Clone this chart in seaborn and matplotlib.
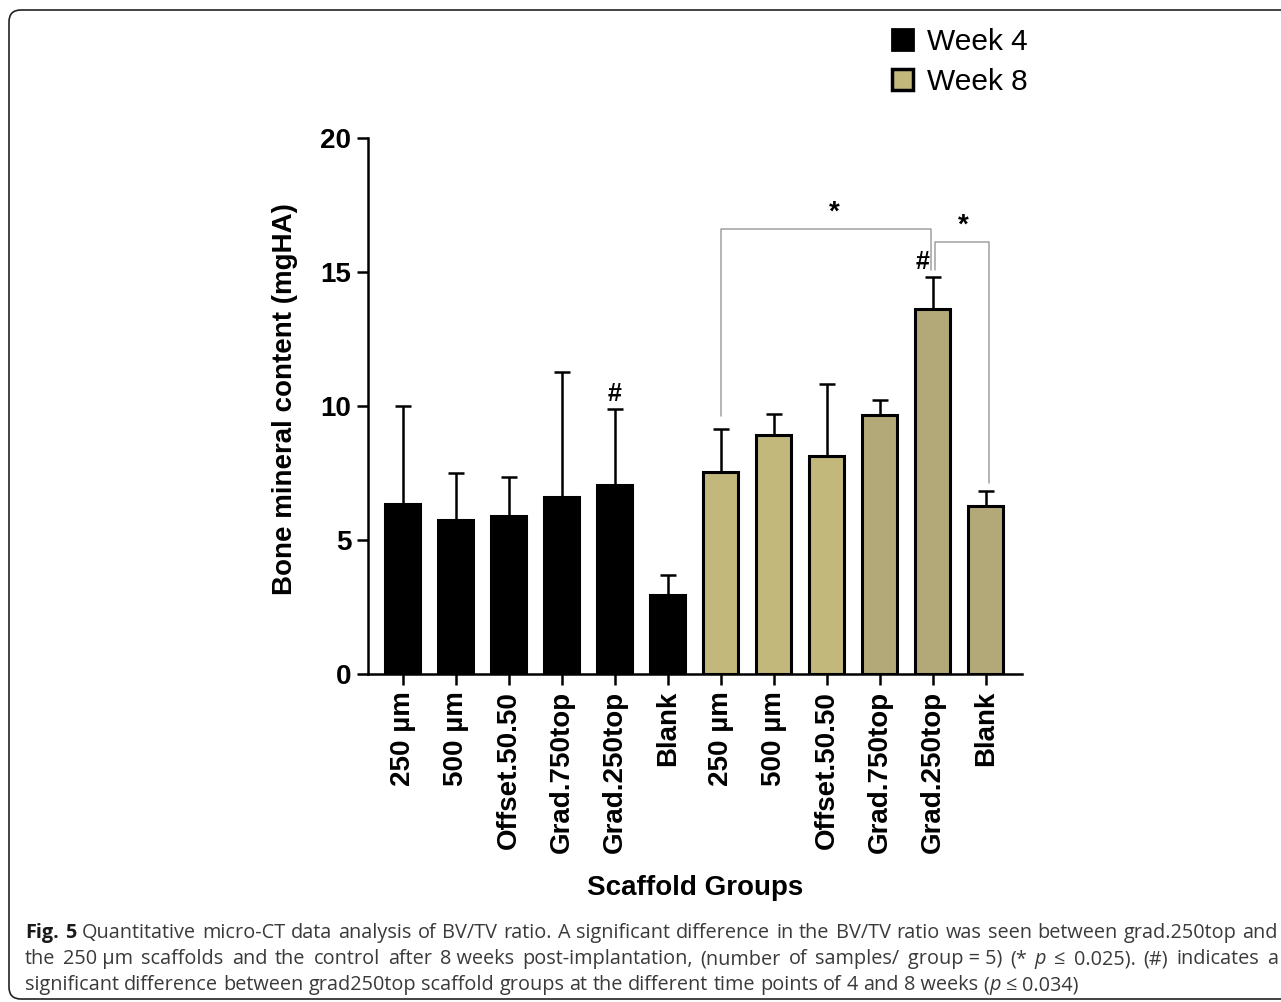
import matplotlib
matplotlib.use("Agg")
import matplotlib.pyplot as plt
import numpy as np
import pandas as pd
import seaborn as sns
from matplotlib.patches import Patch, FancyBboxPatch

# ---- data ---------------------------------------------------------------
GROUPS = ["250 µm", "500 µm", "Offset.50.50", "Grad.750top", "Grad.250top", "Blank"]
WEEKS = ["Week 4", "Week 8"]
MEAN_W4 = [6.34, 5.75, 5.90, 6.60, 7.05, 2.95]
SD_W4 = [3.66, 1.75, 1.45, 4.67, 2.84, 0.75]
MEAN_W8 = [7.54, 8.92, 8.13, 9.66, 13.62, 6.27]
SD_W8 = [1.60, 0.78, 2.69, 0.56, 1.19, 0.56]

COLOR_W4 = "#000000"
COLOR_W8_LIGHT = "#C2B87C"
COLOR_W8_DARK = "#B3A877"

# significance brackets: (x_left, x_right, top, left_bottom, right_bottom, star_x)
BRACKETS = [
    (6.0, 9.97, 16.60, 9.64, 15.07, 8.13),
    (10.04, 11.05, 16.12, 15.07, 7.13, 10.57),
]
HASH_BARS = [4, 10]  # positions carrying a '#'

CAPTION = [
    ([[("Fig.", "b")], [("5", "b")]] +
     [[(w, "n")] for w in "Quantitative micro-CT data analysis of BV/TV ratio. A significant "
                         "difference in the BV/TV ratio was seen between grad.250top and".split()]),
    ([[(w, "n")] for w in ["the", "250 µm", "scaffolds", "and", "the", "control", "after",
                          "8 weeks", "post-implantation,", "(number", "of", "samples/",
                          "group = 5)", "(*"]] +
     [[("p", "i")], [("≤", "n")], [("0.025).", "n")], [("(#)", "n")],
      [("indicates", "n")], [("a", "n")]]),
    ([[(w, "n")] for w in "significant difference between grad250top scaffold groups at the "
                         "different time points of 4 and".split()] +
     [[("8 weeks", "n")], [("(", "n"), ("p", "i")], [("≤", "n")], [("0.034)", "n")]]),
]

# ---- table for seaborn ---------------------------------------------------
keys = [f"{w}|{g}" for w in WEEKS for g in GROUPS]
means = np.array(MEAN_W4 + MEAN_W8)
sds = np.array(SD_W4 + SD_W8)
df = pd.DataFrame({"key": keys, "mean": means})
palette = [COLOR_W4] * 6 + [COLOR_W8_LIGHT] * 3 + [COLOR_W8_DARK] * 3

sns.set_style("ticks")
plt.rcParams["font.family"] = ["Liberation Sans", "DejaVu Sans"]
for k in ["text.color", "axes.labelcolor", "xtick.color", "ytick.color", "axes.edgecolor"]:
    plt.rcParams[k] = "black"

W, H = 1281, 1002
fig = plt.figure(figsize=(W / 100, H / 100), dpi=100)
ax = fig.add_axes([368 / W, 1 - 674 / H, 654 / W, 536 / H])

sns.barplot(data=df, x="key", y="mean", hue="key", order=keys, hue_order=keys,
            palette=palette, saturation=1, width=0.66, dodge=False, legend=False,
            errorbar=None, edgecolor="black", linewidth=2.2, ax=ax)

ax.errorbar(np.arange(len(keys)), means, yerr=[np.zeros(len(keys)), sds],
            fmt="none", ecolor="black", elinewidth=1.8, capsize=5.8, capthick=1.8,
            zorder=0.5)

ax.set_xlim(-0.66, 11.68)
ax.set_ylim(0, 20)
ax.set_yticks([0, 5, 10, 15, 20])
ax.set_xticks(np.arange(len(keys)))
ax.set_xticklabels(GROUPS * 2, rotation=90, fontsize=20, fontweight="bold")
for lab in ax.get_yticklabels():
    lab.set_fontsize(20)
    lab.set_fontweight("bold")
ax.tick_params(axis="both", length=8, width=1.8, direction="out", pad=4)
for s in ["top", "right"]:
    ax.spines[s].set_visible(False)
for s in ["left", "bottom"]:
    ax.spines[s].set_linewidth(1.8)

ax.set_xlabel("Scaffold Groups", fontsize=20, fontweight="bold")
ax.set_ylabel("Bone mineral content (mgHA)", fontsize=20, fontweight="bold")
ax.xaxis.set_label_coords(0.5, -0.399)
ax.xaxis.label.set_va("center")
ax.yaxis.set_label_coords(-0.127, 0.513)
ax.yaxis.label.set_va("center")

# significance annotations
for xl, xr, top, lb, rb, sx in BRACKETS:
    ax.plot([xl, xl, xr, xr], [lb, top, top, rb], color="#a0a0a0", lw=1.1,
            clip_on=False, zorder=3)
    ax.text(sx, top + 0.6, "*", ha="center", va="center", fontsize=20,
            fontweight="bold")
for i in HASH_BARS:
    ax.text(i - (0.2 if i >= 6 else 0), means[i] + sds[i] + 0.55, "#", ha="center",
            va="center", fontsize=18, fontweight="bold")

# legend
handles = [Patch(facecolor=COLOR_W4, edgecolor="black", linewidth=2),
           Patch(facecolor=COLOR_W8_LIGHT, edgecolor="black", linewidth=2.5)]
fig.legend(handles, WEEKS, loc="upper left", bbox_to_anchor=(880 / W, 1 - 16 / H),
           frameon=False, fontsize=21.5, handlelength=0.72, handleheight=0.72,
           handletextpad=0.45, labelspacing=0.4, borderaxespad=0)

# rounded frame around the figure panel
frame = FancyBboxPatch((9, 3), 1300, H - 13, boxstyle="round,pad=0,rounding_size=12",
                       transform=None, fill=False, edgecolor="#222222", lw=1.2)
fig.patches.append(frame)

# caption, justified
renderer = fig.canvas.get_renderer()
CAP_FONT = ["Open Sans", "DejaVu Sans"]
CAP_SIZE = 14.3
X0, X1 = 25, 1278
baselines = [938, 964, 990]


def seg_props(style):
    d = {"family": CAP_FONT, "fontsize": CAP_SIZE, "color": "#3a3a3a"}
    if style == "b":
        d.update(fontweight="bold", color="#1a1a1a")
    if style == "i":
        d.update(fontstyle="italic")
    return d


space_w = None
for li, words in enumerate(CAPTION):
    yb = 1 - baselines[li] / H
    placed = []
    widths = []
    for word in words:
        segs = []
        w = 0
        for txt, st in word:
            t = fig.text(0, yb, txt, va="baseline", ha="left", **seg_props(st))
            bw = t.get_window_extent(renderer).width
            segs.append((t, w))
            w += bw
        placed.append(segs)
        widths.append(w)
    if space_w is None:
        t = fig.text(0, 0, "a a", **seg_props("n"))
        t2 = fig.text(0, 0, "aa", **seg_props("n"))
        space_w = t.get_window_extent(renderer).width - t2.get_window_extent(renderer).width
        t.remove()
        t2.remove()
    gap = space_w
    if li < len(CAPTION) - 1:
        gap = (X1 - X0 - sum(widths)) / (len(words) - 1)
    x = X0
    for segs, w in zip(placed, widths):
        for t, off in segs:
            t.set_x((x + off) / W)
        x += w + gap

fig.savefig("out.png", dpi=100)
